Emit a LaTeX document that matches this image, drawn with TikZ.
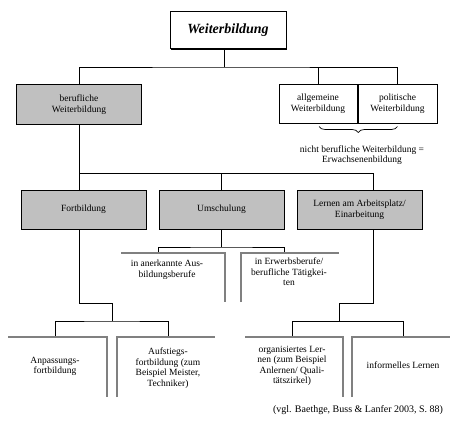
\documentclass[tikz,border=0pt]{standalone}
\usepackage{fontspec}
\setmainfont{Liberation Serif}
\usetikzlibrary{positioning,calc,shadows,decorations.pathreplacing}

\definecolor{boxgray}{RGB}{192,192,192}
\definecolor{framegray}{RGB}{128,128,128}

\tikzset{
  topbox/.style={draw, line width=1pt, fill=white, minimum width=116pt, minimum height=37pt,
    drop shadow={shadow xshift=1.2pt, shadow yshift=-1.2pt, fill=black, opacity=1},
    font=\fontsize{14}{16}\selectfont\bfseries\itshape},
  graybox/.style={draw, line width=1pt, fill=boxgray, minimum width=125pt, minimum height=39pt,
    align=center, font=\fontsize{9.5}{11}\selectfont},
  whitebox/.style={draw, line width=1pt, fill=white, minimum height=38pt,
    align=center, font=\fontsize{9.5}{11}\selectfont},
  leaf/.style={align=center, font=\fontsize{9.5}{10.5}\selectfont},
  link/.style={line width=0.7pt},
  frame/.style={framegray, line width=2.4pt},
}

\begin{document}
\begin{tikzpicture}[x=1pt,y=-1pt]
  \useasboundingbox (0,0) rectangle (474,428);

  % --- top level ---
  \node[topbox] (weiter) at (228,30.5) {Weiterbildung};
  \node[graybox] (beruf) at (79,104.5) {berufliche\\Weiterbildung};
  \node[whitebox, minimum width=78pt] (allg) at (318,104) {allgemeine\\Weiterbildung};
  \node[whitebox, minimum width=79pt, anchor=west] (polit) at (allg.east) {politische\\Weiterbildung};

  \coordinate (bus1) at (224,67);
  \draw[link] (weiter.south -| bus1) -- (bus1);
  \draw[link] (beruf.north) |- (bus1) -| (polit.north);
  \draw[link] (allg.north) -- (allg.north |- bus1);

  % brace under the white boxes
  \draw[link, decorate, decoration={brace, mirror, amplitude=6pt}]
    ($(allg.south)+(1,3)$) -- ($(polit.south)+(0,3)$);
  \node[leaf] (nicht) at (362,155) {nicht berufliche Weiterbildung =\\Erwachsenenbildung};

  % --- middle level ---
  \node[graybox] (fort) at (83.5,209.5) {Fortbildung};
  \node[graybox] (umsch) at (221.5,209.5) {Umschulung};
  \node[graybox] (lern) at (359.5,209.5) {Lernen am Arbeitsplatz/\\Einarbeitung};

  \coordinate (bus2) at (222,173);
  \coordinate (lernx) at (373,0);
  \draw[link] (beruf.south) -- (fort.north -| beruf.south);
  \draw[link] (beruf.south |- bus2) -| (lern.north -| lernx);
  \draw[link] (umsch.north) -- (umsch.north |- bus2);

  % --- below Umschulung ---
  \draw[frame] (121,253) -- (225,253) -- (225,302);
  \draw[frame] (241,302) -- (241,253) -- (339,253);
  \node[leaf] (anerk) at (167,269.5) {in anerkannte Aus-\\bildungsberufe};
  \node[leaf] (erwerb) at (289,272) {in Erwerbsberufe/\\berufliche T\"atigkei-\\ten};

  \coordinate (bus3) at (221.5,247);
  \coordinate (ftop3) at (0,252);
  \draw[link] (umsch.south) -- (bus3);
  \draw[link] (umsch.south west |- ftop3) |- (bus3) -| (umsch.south east |- ftop3);

  % --- below Fortbildung ---
  \draw[frame] (8,337) -- (107,337) -- (107,397);
  \draw[frame] (117,397) -- (117,337) -- (215,337);
  \node[leaf] (anpass) at (55,366.5) {Anpassungs-\\fortbildung};
  \node[leaf] (aufst) at (168,368) {Aufstiegs-\\fortbildung (zum\\Beispiel Meister,\\Techniker)};

  \coordinate (bend4) at (112,303);
  \coordinate (bus4) at (112,321);
  \coordinate (ftop) at (0,336);
  \draw[link] (fort.south -| beruf.south) |- (bend4) -- (bus4);
  \draw[link] (anpass.north |- ftop) |- (bus4) -| (aufst.north |- ftop);

  % --- below Lernen ---
  \draw[frame] (245,337) -- (343,337) -- (343,397);
  \draw[frame] (352,397) -- (352,337) -- (450,337);
  \node[leaf] (organ) at (292,366) {organisiertes Ler-\\nen (zum Beispiel\\Anlernen/ Quali-\\t\"atszirkel)};
  \node[leaf] (inform) at (403,365) {informelles Lernen};

  \coordinate (bend5) at (339,303);
  \coordinate (bus5) at (339,321.5);
  \draw[link] (lern.south -| lernx) |- (bend5) -- (bus5);
  \draw[link] (organ.north |- ftop) |- (bus5) -| (inform.north |- ftop);

  % source
  \node[font=\fontsize{10}{12}\selectfont] (quelle) at (358,410)
    {(vgl. Baethge, Buss \& Lanfer 2003, S. 88)};
\end{tikzpicture}
\end{document}
